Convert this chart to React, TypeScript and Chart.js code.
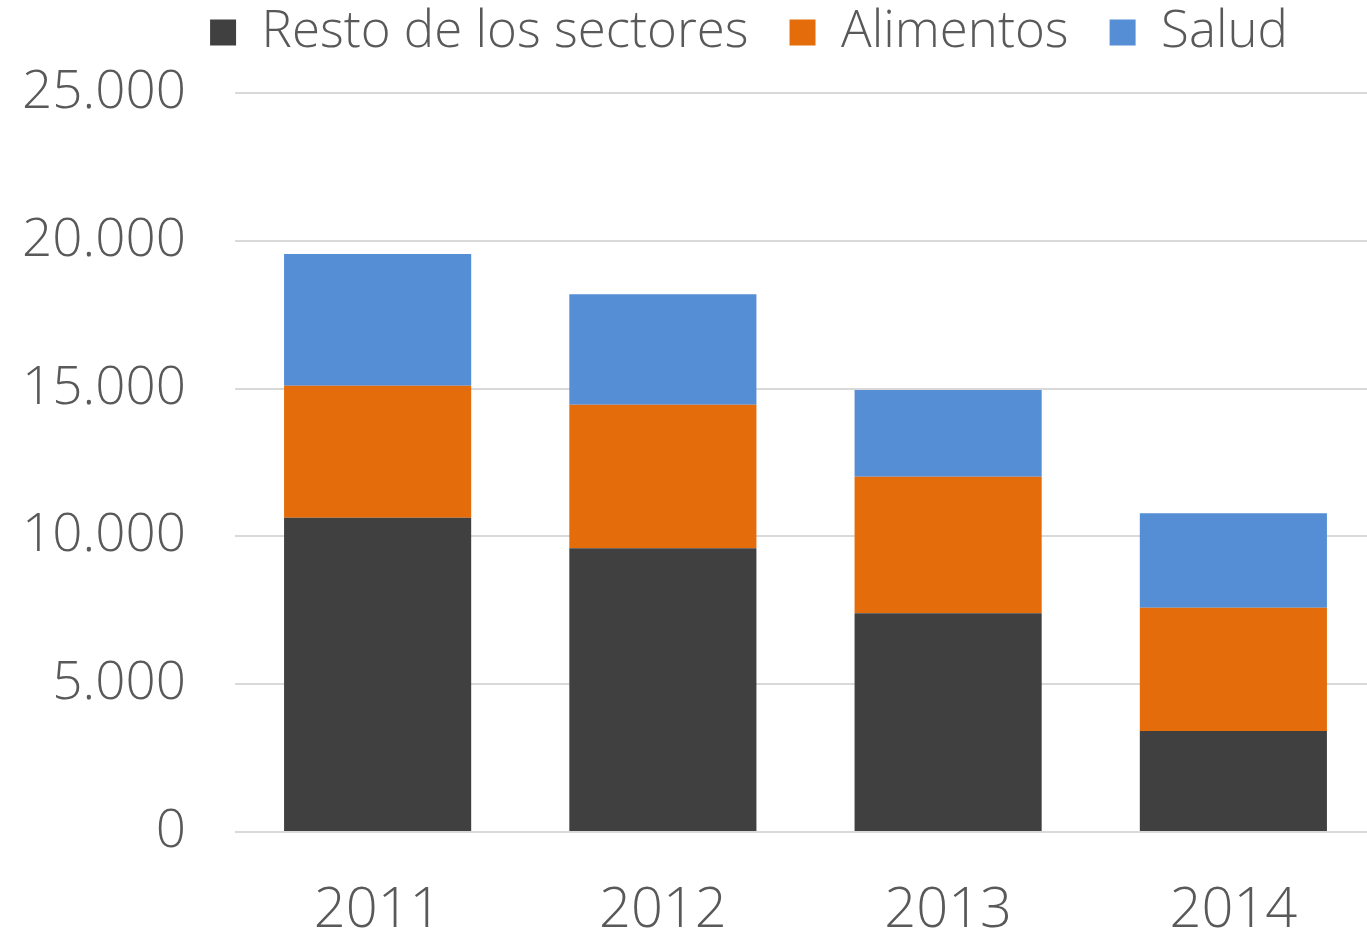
import React, { useEffect, useRef } from "react";
import { Chart, registerables } from "chart.js";

Chart.register(...registerables);

const categories = ["2011", "2012", "2013", "2014"];
const restoValues = [10630, 9600, 7400, 3420];
const alimentosValues = [4470, 4850, 4620, 4170];
const saludValues = [4450, 3740, 2930, 3190];
const seriesLabels = ["Resto de los sectores", "Alimentos", "Salud"];
const yTicks = [0, 5000, 10000, 15000, 20000, 25000];

const FONT = "'Open Sans', 'DejaVu Sans', sans-serif";
const TEXT = "#595959";

function fmt(v: number): string {
  return String(Math.round(v)).replace(/\B(?=(\d{3})+(?!\d))/g, ".");
}

// shifts the legend box so it is centred as in the original layout
const legendShift = {
  id: "legendShift",
  afterLayout(chart: any) {
    if (chart.legend) {
      chart.legend.left = 122;
    }
  },
};

export default function App() {
  const ref = useRef<HTMLCanvasElement | null>(null);
  useEffect(() => {
    if (!ref.current) return;
    const chart = new Chart(ref.current, {
      type: "bar",
      data: {
        labels: categories,
        datasets: [
          { label: seriesLabels[0], data: restoValues, backgroundColor: "#404040" },
          { label: seriesLabels[1], data: alimentosValues, backgroundColor: "#E46C0A" },
          { label: seriesLabels[2], data: saludValues, backgroundColor: "#558ED5" },
        ],
      },
      plugins: [legendShift],
      options: {
        animation: false,
        responsive: true,
        maintainAspectRatio: false,
        layout: { padding: { top: -34, left: 0, right: 0, bottom: 0 } },
        datasets: { bar: { categoryPercentage: 1, barPercentage: 0.656 } },
        plugins: {
          tooltip: { enabled: false },
          legend: {
            position: "top",
            labels: {
              boxWidth: 26,
              boxHeight: 26,
              padding: 41,
              color: TEXT,
              font: { family: FONT, size: 51, weight: "300" as any },
            },
          },
          subtitle: {
            display: true,
            text: "",
            weight: 500,
            padding: { top: 3, bottom: 2 },
            font: { size: 20, lineHeight: 1 },
          } as any,
        },
        scales: {
          x: {
            stacked: true,
            grid: { display: false, drawTicks: false },
            border: { display: false },
            ticks: {
              color: TEXT,
              padding: 51,
              font: { family: FONT, size: 56, weight: "300" as any, lineHeight: 1 },
            },
            afterFit: (s: any) => {
              s.height = 104;
            },
          },
          y: {
            stacked: true,
            min: 0,
            max: 25000,
            afterBuildTicks: (s: any) => {
              s.ticks = yTicks.map((v) => ({ value: v }));
            },
            grid: { color: "#d9d9d9", lineWidth: 2, drawTicks: false },
            border: { display: false },
            ticks: {
              color: TEXT,
              padding: 49,
              font: { family: FONT, size: 53, weight: "300" as any },
              callback: (v: any) => fmt(Number(v)),
            },
            afterFit: (s: any) => {
              s.width = 235;
            },
          },
        },
      },
    });
    return () => chart.destroy();
  }, []);
  return (
    <div style={{ position: "absolute", left: 0, top: 0, width: 1367, height: 936, overflow: "hidden" }}>
      <div style={{ position: "relative", width: 1376, height: 936 }}>
        <canvas ref={ref} />
      </div>
    </div>
  );
}
